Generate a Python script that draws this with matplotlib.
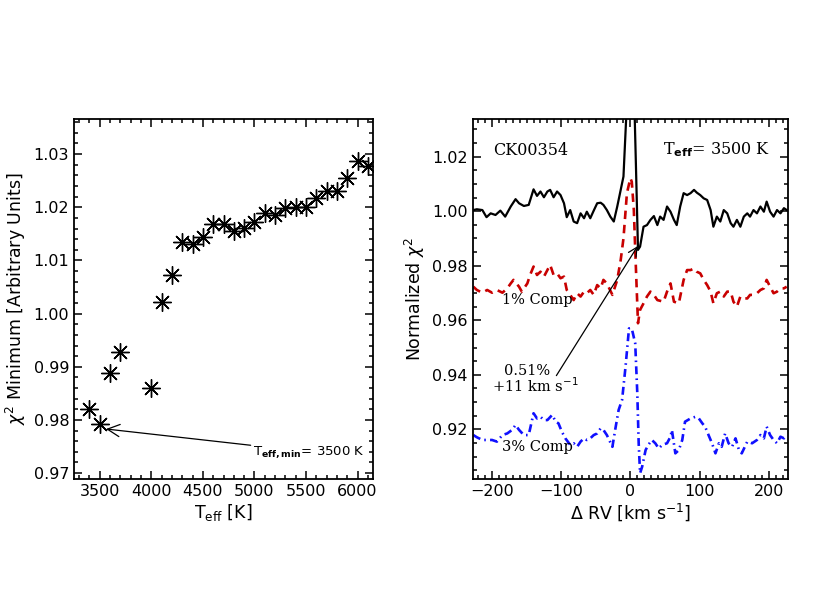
#!/usr/bin/env python3
"""
Chi-square minimum vs Teff and companion search chi-square curves for CK00354
"""

import matplotlib.pyplot as plt
from matplotlib.ticker import MultipleLocator

# Left panel: chi^2 minimum for each template temperature
teff = [3400, 3500, 3600, 3700, 4000, 4100, 4200, 4300, 4400, 4500, 4600, 4700,
        4800, 4900, 5000, 5100, 5200, 5300, 5400, 5500, 5600, 5700, 5800, 5900,
        6000, 6100]
chi2_min = [0.9820, 0.9792, 0.9888, 0.9927, 0.9860, 1.0021, 1.0073, 1.0134,
            1.0131, 1.0144, 1.0168, 1.0169, 1.0155, 1.0161, 1.0173, 1.0189,
            1.0186, 1.0198, 1.0200, 1.0200, 1.0217, 1.0230, 1.0230, 1.0255,
            1.0287, 1.0278]

# Right panel: normalized chi^2 vs delta RV
rv_data = [-227, -222, -214, -208, -202, -195, -188, -181, -173, -166, -161, -154,
           -147, -140, -135, -130, -125, -120, -116, -111, -106, -101, -96, -92,
           -87, -82, -77, -72, -67, -63, -58, -53, -48, -43, -39, -34, -29, -24,
           -19, -14, -10, -5, -2, 2, 5, 8, 11, 14, 19, 24, 29, 34, 39, 43, 48,
           53, 58, 63, 67, 72, 77, 82, 87, 92, 96, 101, 106, 111, 116, 120, 125,
           130, 135, 140, 145, 149, 154, 159, 164, 169, 173, 178, 183, 188, 193,
           197, 202, 207, 212, 217, 222, 226]
chi2_data = [1.0004, 1.0007, 1.0004, 0.9978, 0.9992, 0.9986, 1.0002, 0.9980,
             1.0017, 1.0044, 1.0029, 1.0019, 1.0023, 1.0080, 1.0056, 1.0072,
             1.0051, 1.0072, 1.0078, 1.0051, 1.0072, 1.0059, 1.0029, 0.9978,
             1.0004, 0.9962, 0.9956, 0.9992, 0.9974, 0.9998, 0.9974, 1.0002,
             1.0029, 1.0031, 1.0023, 1.0004, 0.9980, 0.9962, 1.0017, 1.0078,
             1.0127, 1.0400, 1.0600, 1.0600, 1.0470, 1.0170, 0.9858, 0.9870,
             0.9943, 0.9949, 0.9968, 0.9982, 0.9949, 0.9980, 0.9968, 1.0017,
             0.9998, 0.9968, 0.9949, 1.0017, 1.0066, 1.0059, 1.0066, 1.0078,
             1.0068, 1.0059, 1.0047, 1.0041, 1.0004, 0.9943, 0.9980, 0.9962,
             1.0004, 0.9992, 0.9956, 0.9943, 0.9968, 0.9943, 0.9980, 0.9992,
             0.9980, 1.0004, 0.9992, 1.0017, 0.9998, 1.0035, 0.9998, 0.9980,
             1.0004, 0.9992, 1.0011, 1.0004]

rv_1pct = [-227, -222, -214, -207, -200, -193, -185, -178, -173, -169, -161, -157,
           -149, -145, -140, -135, -130, -125, -120, -116, -111, -106, -101, -96,
           -92, -87, -82, -77, -72, -67, -63, -58, -53, -48, -43, -39, -34, -26,
           -19, -14, -10, -5, 0, 2, 5, 7, 11, 14, 19, 24, 29, 34, 39, 48, 53, 58,
           63, 70, 77, 82, 87, 92, 96, 101, 106, 111, 116, 120, 125, 130, 135,
           140, 145, 149, 154, 159, 164, 169, 173, 178, 183, 188, 193, 197, 202,
           207, 212, 217, 222, 226]
chi2_1pct = [0.9723, 0.9711, 0.9701, 0.9711, 0.9701, 0.9711, 0.9701, 0.9717,
             0.9735, 0.9748, 0.9723, 0.9705, 0.9735, 0.9766, 0.9797, 0.9766,
             0.9778, 0.9760, 0.9784, 0.9803, 0.9766, 0.9772, 0.9754, 0.9760,
             0.9711, 0.9693, 0.9674, 0.9699, 0.9687, 0.9705, 0.9699, 0.9711,
             0.9693, 0.9729, 0.9717, 0.9748, 0.9735, 0.9693, 0.9748, 0.9821,
             0.9900, 1.0066, 1.0121, 1.0108, 1.0004, 0.9858, 0.9589, 0.9638,
             0.9662, 0.9687, 0.9705, 0.9693, 0.9674, 0.9668, 0.9705, 0.9735,
             0.9668, 0.9662, 0.9748, 0.9784, 0.9784, 0.9790, 0.9778, 0.9772,
             0.9748, 0.9729, 0.9705, 0.9662, 0.9699, 0.9705, 0.9687, 0.9705,
             0.9705, 0.9668, 0.9650, 0.9687, 0.9680, 0.9680, 0.9693, 0.9693,
             0.9699, 0.9711, 0.9717, 0.9748, 0.9723, 0.9699, 0.9705, 0.9717,
             0.9717, 0.9723]

rv_3pct = [-227, -222, -214, -207, -200, -193, -185, -178, -171, -166, -161, -154,
           -147, -140, -135, -130, -125, -120, -113, -108, -104, -99, -94, -87,
           -82, -77, -72, -67, -63, -58, -53, -48, -43, -39, -34, -26, -22, -17,
           -12, -7, -2, 2, 7, 10, 12, 14, 17, 22, 26, 31, 36, 41, 46, 53, 58, 60,
           65, 70, 75, 79, 87, 94, 99, 104, 108, 113, 118, 123, 128, 132, 137,
           142, 147, 152, 157, 161, 169, 176, 183, 188, 193, 197, 202, 207, 212,
           217, 222, 226]
chi2_3pct = [0.9179, 0.9171, 0.9161, 0.9161, 0.9161, 0.9155, 0.9179, 0.9185,
             0.9198, 0.9216, 0.9198, 0.9179, 0.9179, 0.9259, 0.9240, 0.9246,
             0.9234, 0.9234, 0.9253, 0.9228, 0.9222, 0.9191, 0.9167, 0.9143,
             0.9149, 0.9136, 0.9155, 0.9167, 0.9161, 0.9167, 0.9179, 0.9185,
             0.9204, 0.9198, 0.9179, 0.9136, 0.9198, 0.9271, 0.9308, 0.9430,
             0.9570, 0.9570, 0.9515, 0.9332, 0.9149, 0.9039, 0.9063, 0.9124,
             0.9143, 0.9161, 0.9149, 0.9130, 0.9143, 0.9149, 0.9173, 0.9198,
             0.9112, 0.9124, 0.9161, 0.9228, 0.9240, 0.9246, 0.9240, 0.9222,
             0.9210, 0.9179, 0.9149, 0.9112, 0.9149, 0.9136, 0.9185, 0.9149,
             0.9136, 0.9167, 0.9124, 0.9112, 0.9155, 0.9149, 0.9161, 0.9179,
             0.9167, 0.9210, 0.9179, 0.9161, 0.9149, 0.9173, 0.9167, 0.9179]

TICK_FONT = 11.5
SERIF = 'DejaVu Serif'


def style_axes(ax, xmajor, xminor, ymajor, yminor):
    """IDL-like boxed axes with inward ticks on every side"""
    ax.xaxis.set_major_locator(MultipleLocator(xmajor))
    ax.xaxis.set_minor_locator(MultipleLocator(xminor))
    ax.yaxis.set_major_locator(MultipleLocator(ymajor))
    ax.yaxis.set_minor_locator(MultipleLocator(yminor))
    ax.tick_params(which='both', direction='in', top=True, right=True,
                   labelsize=TICK_FONT, width=1.1)
    ax.tick_params(which='major', length=6)
    ax.tick_params(which='minor', length=3)
    for spine in ax.spines.values():
        spine.set_linewidth(1.3)


def main():
    fig = plt.figure(figsize=(8.3, 6.0), dpi=100)

    # ---- left panel
    ax1 = fig.add_axes([0.0892, 0.2017, 0.3602, 0.600])
    ax1.plot(teff, chi2_min, linestyle='none', marker=(8, 2, 0), markersize=13,
             markeredgewidth=1.0, color='black')
    ax1.plot(teff, chi2_min, linestyle='none', marker='o', markersize=2.5,
             color='black')
    ax1.set_xlim(3250, 6150)
    ax1.set_ylim(0.9689, 1.0366)
    style_axes(ax1, 500, 100, 0.01, 0.002)
    ax1.yaxis.set_major_formatter(plt.FormatStrFormatter('%.2f'))
    ax1.set_xlabel(r'T$_{\rm eff}$ [K]', fontsize=12.5, labelpad=2)
    ax1.set_ylabel(r'$\chi^2$ Minimum [Arbitrary Units]', fontsize=12.5)
    ax1.annotate(r'T$_{\bf eff,min}$= 3500 K', xy=(3560, 0.9783),
                 xytext=(4990, 0.9740), fontsize=9.5, va='center', ha='left',
                 arrowprops=dict(arrowstyle='->', color='black', lw=0.9,
                                 mutation_scale=22, shrinkA=0, shrinkB=0))

    # ---- right panel
    ax2 = fig.add_axes([0.5695, 0.2017, 0.380, 0.600])
    ax2.plot(rv_data, chi2_data, color='black', lw=1.6)
    ax2.plot(rv_1pct, chi2_1pct, color='#c80000', lw=1.9,
             linestyle=(0, (3.2, 2.2)))
    ax2.plot(rv_3pct, chi2_3pct, color='#1010ff', lw=1.9,
             linestyle=(0, (3.0, 1.6, 0.6, 1.6)))
    ax2.set_xlim(-228, 228)
    ax2.set_ylim(0.9018, 1.0338)
    style_axes(ax2, 100, 10, 0.02, 0.005)
    ax2.yaxis.set_major_formatter(plt.FormatStrFormatter('%.2f'))
    ax2.set_xlabel(r'$\Delta$ RV [km s$^{-1}$]', fontsize=12.5, labelpad=2)
    ax2.set_ylabel(r'Normalized $\chi^2$', fontsize=12.5)

    ax2.text(-198, 1.0224, 'CK00354', fontsize=11.5, family=SERIF,
             ha='left', va='center')
    ax2.text(202, 1.0224, r'T$_{\bf eff}$= 3500 K', fontsize=11.5,
             family=SERIF, ha='right', va='center')
    ax2.text(-186, 0.9676, '1% Comp', fontsize=10.5, family=SERIF,
             ha='left', va='center')
    ax2.text(-186, 0.9136, '3% Comp', fontsize=10.5, family=SERIF,
             ha='left', va='center')
    ax2.text(-149, 0.9414, '0.51%', fontsize=10.5, family=SERIF,
             ha='center', va='center')
    ax2.text(-137, 0.9359, r'+11 km s$^{-1}$', fontsize=10.5, family=SERIF,
             ha='center', va='center')
    ax2.annotate('', xy=(10.6, 0.9872), xytext=(-107, 0.9397),
                 arrowprops=dict(arrowstyle='->', color='black', lw=0.9,
                                 mutation_scale=16, shrinkA=0, shrinkB=0))

    fig.savefig('out.png', dpi=100, facecolor='white')


if __name__ == "__main__":
    main()
